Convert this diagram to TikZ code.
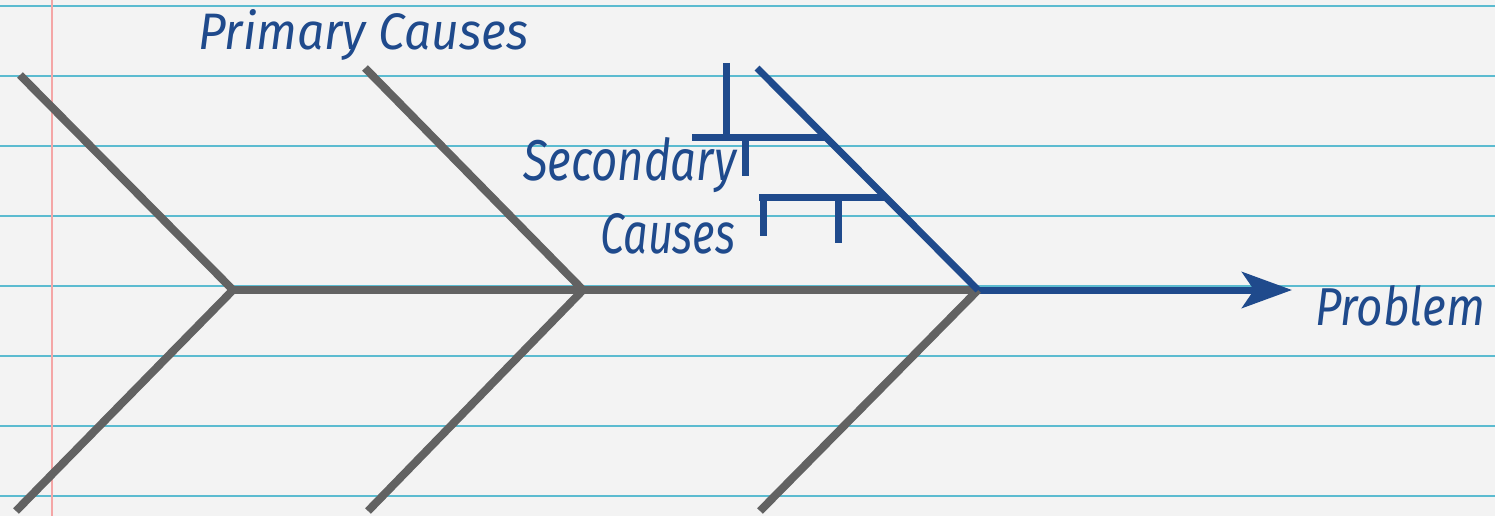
\documentclass[tikz,border=0pt]{standalone}
\usepackage{fontspec}
\usepackage{graphicx}
\usetikzlibrary{arrows.meta}
\newfontfamily\hand{Fira Sans Italic}
\definecolor{paper}{HTML}{F3F3F3}
\definecolor{rule}{HTML}{5BBBD0}
\definecolor{margin}{HTML}{F4A6A6}
\definecolor{inkblue}{HTML}{1F4A8C}
\definecolor{bonegray}{HTML}{626262}
\tikzset{
  ruleline/.style={rule, line width=2pt},
  bone/.style={bonegray, line width=8pt},
  bluebone/.style={inkblue, line width=7pt},
  label/.style={inkblue, inner sep=0pt, anchor=base west},
}
\newcommand{\hw}[3]{\resizebox{#1pt}{#2pt}{\hand #3}}
\begin{document}
\begin{tikzpicture}[x=1pt,y=-1pt]
\useasboundingbox (0,0) rectangle (1495,516);
\fill[paper] (0,0) rectangle (1495,516);
% notebook rules
\foreach \yy in {6,76,146,216,286,356,426,496}
  \draw[ruleline] (0,\yy) -- (1495,\yy);
\draw[margin, line width=2.5pt] (52,0) -- (52,516);

% joints
\coordinate (j1) at (233,290);
\coordinate (j2) at (583,290);
\coordinate (j3) at (978,290);
\coordinate (t1) at (20,75);
\coordinate (b1) at (16,511);
\coordinate (t2) at (365,68);
\coordinate (b2) at (368,511);
\coordinate (t3) at (757,68);
\coordinate (b3) at (760,511);
\coordinate (tip) at (1292,290);

% spine
\draw[bone] (j1) -- (j3);
\draw[bluebone, -{Stealth[length=50pt, width=36pt, inset=12pt]}] (j3) -- (tip);

% primary bones
\draw[bone] (t1) -- (j1) -- (b1);
\draw[bone] (t2) -- (j2) -- (b2);
\draw[bone] (j3) -- (b3);
\draw[bluebone] (t3) -- (j3);

% secondary causes
\coordinate (s2) at (825,137);
\coordinate (s3) at (884,197);
\draw[bluebone] (692,137) -- (s2);
\draw[bluebone] (726,63) -- (726,137);
\draw[bluebone] (745,137) -- (745,176);
\draw[bluebone] (759,197) -- (s3);
\draw[bluebone] (763,197) -- (763,236);
\draw[bluebone] (838,197) -- (838,243);

% labels
\node[label] (prim) at (198,50) {\hw{330}{40}{Primary Causes}};
\node[label] (sec) at (523,180) {\hw{213}{43}{Secondary}};
\node[label] (cau) at (600,253) {\hw{135}{40}{Causes}};
\node[label] (prob) at (1315,325) {\hw{170}{40}{Problem}};
\end{tikzpicture}
\end{document}
